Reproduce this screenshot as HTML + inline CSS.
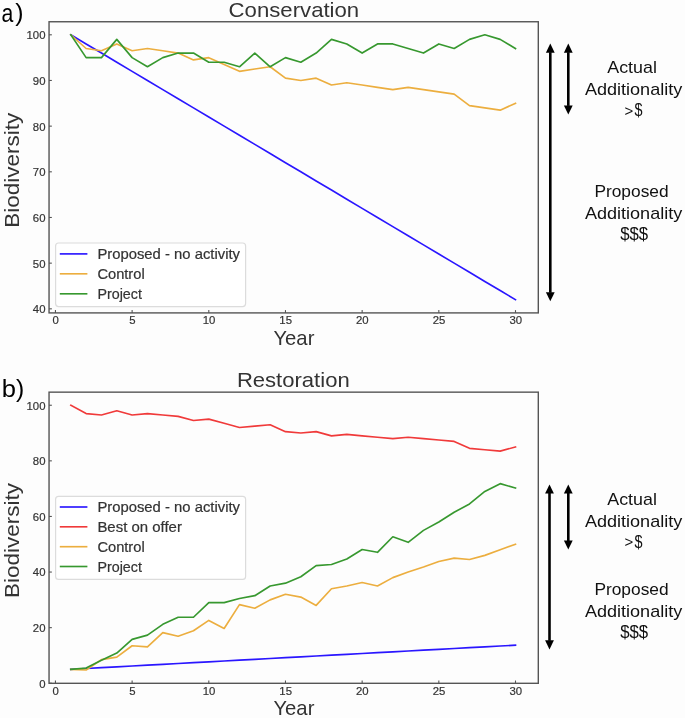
<!DOCTYPE html>
<html><head><meta charset="utf-8"><style>
html,body{margin:0;padding:0;background:#fdfdfd;}
svg{display:block;font-family:"Liberation Sans",sans-serif;will-change:transform;}
</style></head><body>
<svg width="685" height="718" viewBox="0 0 685 718">
<rect width="685" height="718" fill="#fdfdfd"/>
<g>
<polyline points="70.78,34.80 86.12,43.93 101.46,53.07 116.79,62.20 132.12,71.34 147.46,80.47 162.80,89.60 178.13,98.74 193.47,107.87 208.80,117.01 224.13,126.14 239.47,135.27 254.81,144.41 270.14,153.54 285.48,162.68 300.81,171.81 316.14,180.94 331.48,190.08 346.81,199.21 362.15,208.35 377.49,217.48 392.82,226.61 408.16,235.75 423.49,244.88 438.82,254.02 454.16,263.15 469.50,272.28 484.83,281.42 500.17,290.55 515.50,299.69" fill="none" stroke="#2a16ff" stroke-width="1.65" stroke-linejoin="round" stroke-linecap="square"/>
<polyline points="70.78,34.80 86.12,48.50 101.46,50.78 116.79,43.93 132.12,50.78 147.46,48.50 162.80,50.78 178.13,53.07 193.47,59.92 208.80,57.63 224.13,64.49 239.47,71.34 254.81,69.05 270.14,66.77 285.48,78.19 300.81,80.47 316.14,78.19 331.48,85.04 346.81,82.75 362.15,85.04 377.49,87.32 392.82,89.60 408.16,87.32 423.49,89.60 438.82,91.89 454.16,94.17 469.50,105.59 484.83,107.87 500.17,110.16 515.50,103.30" fill="none" stroke="#ecae3f" stroke-width="1.65" stroke-linejoin="round" stroke-linecap="square"/>
<polyline points="70.78,34.80 86.12,57.63 101.46,57.63 116.79,39.37 132.12,57.63 147.46,66.77 162.80,57.63 178.13,53.07 193.47,53.07 208.80,62.20 224.13,62.20 239.47,66.77 254.81,53.07 270.14,66.77 285.48,57.63 300.81,62.20 316.14,53.07 331.48,39.37 346.81,43.93 362.15,53.07 377.49,43.93 392.82,43.93 408.16,48.50 423.49,53.07 438.82,43.93 454.16,48.50 469.50,39.37 484.83,34.80 500.17,39.37 515.50,48.50" fill="none" stroke="#37982f" stroke-width="1.65" stroke-linejoin="round" stroke-linecap="square"/>
</g>
<rect x="49.05" y="21.75" width="489.24999999999994" height="291.15" fill="none" stroke="#555" stroke-width="1.4"/>
<line x1="49.05" y1="308.82" x2="51.849999999999994" y2="308.82" stroke="#555" stroke-width="1.1"/>
<text x="45.5" y="313.22" font-size="11.8" text-anchor="end" fill="#333333" textLength="12.65" lengthAdjust="spacingAndGlyphs" stroke="#333333" stroke-width="0.2">40</text>
<line x1="49.05" y1="263.15" x2="51.849999999999994" y2="263.15" stroke="#555" stroke-width="1.1"/>
<text x="45.5" y="267.55" font-size="11.8" text-anchor="end" fill="#333333" textLength="12.65" lengthAdjust="spacingAndGlyphs" stroke="#333333" stroke-width="0.2">50</text>
<line x1="49.05" y1="217.48" x2="51.849999999999994" y2="217.48" stroke="#555" stroke-width="1.1"/>
<text x="45.5" y="221.88" font-size="11.8" text-anchor="end" fill="#333333" textLength="12.65" lengthAdjust="spacingAndGlyphs" stroke="#333333" stroke-width="0.2">60</text>
<line x1="49.05" y1="171.81" x2="51.849999999999994" y2="171.81" stroke="#555" stroke-width="1.1"/>
<text x="45.5" y="176.21" font-size="11.8" text-anchor="end" fill="#333333" textLength="12.65" lengthAdjust="spacingAndGlyphs" stroke="#333333" stroke-width="0.2">70</text>
<line x1="49.05" y1="126.14" x2="51.849999999999994" y2="126.14" stroke="#555" stroke-width="1.1"/>
<text x="45.5" y="130.54" font-size="11.8" text-anchor="end" fill="#333333" textLength="12.65" lengthAdjust="spacingAndGlyphs" stroke="#333333" stroke-width="0.2">80</text>
<line x1="49.05" y1="80.47" x2="51.849999999999994" y2="80.47" stroke="#555" stroke-width="1.1"/>
<text x="45.5" y="84.87" font-size="11.8" text-anchor="end" fill="#333333" textLength="12.65" lengthAdjust="spacingAndGlyphs" stroke="#333333" stroke-width="0.2">90</text>
<line x1="49.05" y1="34.80" x2="51.849999999999994" y2="34.80" stroke="#555" stroke-width="1.1"/>
<text x="45.5" y="39.20" font-size="11.8" text-anchor="end" fill="#333333" textLength="18.97" lengthAdjust="spacingAndGlyphs" stroke="#333333" stroke-width="0.2">100</text>
<line x1="55.45" y1="312.9" x2="55.45" y2="310.09999999999997" stroke="#555" stroke-width="1.1"/>
<text x="55.65" y="324.30" font-size="11.8" text-anchor="middle" fill="#333333" textLength="6.32" lengthAdjust="spacingAndGlyphs" stroke="#333333" stroke-width="0.2">0</text>
<line x1="132.12" y1="312.9" x2="132.12" y2="310.09999999999997" stroke="#555" stroke-width="1.1"/>
<text x="132.32" y="324.30" font-size="11.8" text-anchor="middle" fill="#333333" textLength="6.32" lengthAdjust="spacingAndGlyphs" stroke="#333333" stroke-width="0.2">5</text>
<line x1="208.80" y1="312.9" x2="208.80" y2="310.09999999999997" stroke="#555" stroke-width="1.1"/>
<text x="209.00" y="324.30" font-size="11.8" text-anchor="middle" fill="#333333" textLength="12.65" lengthAdjust="spacingAndGlyphs" stroke="#333333" stroke-width="0.2">10</text>
<line x1="285.48" y1="312.9" x2="285.48" y2="310.09999999999997" stroke="#555" stroke-width="1.1"/>
<text x="285.68" y="324.30" font-size="11.8" text-anchor="middle" fill="#333333" textLength="12.65" lengthAdjust="spacingAndGlyphs" stroke="#333333" stroke-width="0.2">15</text>
<line x1="362.15" y1="312.9" x2="362.15" y2="310.09999999999997" stroke="#555" stroke-width="1.1"/>
<text x="362.35" y="324.30" font-size="11.8" text-anchor="middle" fill="#333333" textLength="12.65" lengthAdjust="spacingAndGlyphs" stroke="#333333" stroke-width="0.2">20</text>
<line x1="438.82" y1="312.9" x2="438.82" y2="310.09999999999997" stroke="#555" stroke-width="1.1"/>
<text x="439.02" y="324.30" font-size="11.8" text-anchor="middle" fill="#333333" textLength="12.65" lengthAdjust="spacingAndGlyphs" stroke="#333333" stroke-width="0.2">25</text>
<line x1="515.50" y1="312.9" x2="515.50" y2="310.09999999999997" stroke="#555" stroke-width="1.1"/>
<text x="515.70" y="324.30" font-size="11.8" text-anchor="middle" fill="#333333" textLength="12.65" lengthAdjust="spacingAndGlyphs" stroke="#333333" stroke-width="0.2">30</text>
<text x="293.9" y="16.7" font-size="21.0" text-anchor="middle" fill="#333333" textLength="130.6" lengthAdjust="spacingAndGlyphs">Conservation</text>
<text x="293.9" y="344.95" font-size="21" text-anchor="middle" fill="#333333" textLength="41" lengthAdjust="spacingAndGlyphs">Year</text>
<text transform="translate(19.4,170.15) rotate(-90)" x="0" y="0" font-size="21" text-anchor="middle" fill="#333333" textLength="115" lengthAdjust="spacingAndGlyphs">Biodiversity</text>
<text x="1.4" y="22.0" font-size="26.0" text-anchor="start" fill="#000" textLength="11.8" lengthAdjust="spacingAndGlyphs">a</text>
<text x="15.2" y="21.3" font-size="24.8" text-anchor="start" fill="#000">)</text>
<rect x="55.6" y="243.0" width="190.0" height="63.60000000000002" rx="3" fill="#fff" fill-opacity="0.8" stroke="#dcdcdc" stroke-width="1.2"/>
<line x1="59.8" y1="253.9" x2="87.4" y2="253.9" stroke="#2a16ff" stroke-width="1.65"/>
<text x="97.4" y="258.90" font-size="14.2" text-anchor="start" fill="#333333" textLength="142.6" lengthAdjust="spacingAndGlyphs" stroke="#333333" stroke-width="0.2">Proposed - no activity</text>
<line x1="59.8" y1="273.8" x2="87.4" y2="273.8" stroke="#ecae3f" stroke-width="1.65"/>
<text x="97.4" y="278.80" font-size="14.2" text-anchor="start" fill="#333333" textLength="47.3" lengthAdjust="spacingAndGlyphs" stroke="#333333" stroke-width="0.2">Control</text>
<line x1="59.8" y1="293.8" x2="87.4" y2="293.8" stroke="#37982f" stroke-width="1.65"/>
<text x="97.4" y="298.80" font-size="14.2" text-anchor="start" fill="#333333" textLength="44.5" lengthAdjust="spacingAndGlyphs" stroke="#333333" stroke-width="0.2">Project</text>
<line x1="550.3" y1="52.2" x2="550.3" y2="292.7" stroke="#000" stroke-width="2.6"/>
<polygon points="550.3,43.6 545.9,52.7 554.6999999999999,52.7" fill="#000"/>
<polygon points="550.3,301.3 545.9,292.2 554.6999999999999,292.2" fill="#000"/>
<line x1="568.3" y1="52.2" x2="568.3" y2="105.9" stroke="#000" stroke-width="2.6"/>
<polygon points="568.3,43.6 563.9,52.7 572.6999999999999,52.7" fill="#000"/>
<polygon points="568.3,114.5 563.9,105.4 572.6999999999999,105.4" fill="#000"/>
<text x="632.1" y="73.4" font-size="15.9" text-anchor="middle" fill="#111" textLength="49.6" lengthAdjust="spacingAndGlyphs">Actual</text>
<text x="633.6" y="95.2" font-size="15.9" text-anchor="middle" fill="#111" textLength="97.4" lengthAdjust="spacingAndGlyphs">Additionality</text>
<text x="624.6" y="115.85" font-size="15.0" text-anchor="start" fill="#111">&gt;</text>
<text x="634.4" y="116.1" font-size="18.0" text-anchor="start" fill="#111" textLength="8.0" lengthAdjust="spacingAndGlyphs">$</text>
<text x="631.5" y="197.0" font-size="15.9" text-anchor="middle" fill="#111" textLength="74.2" lengthAdjust="spacingAndGlyphs">Proposed</text>
<text x="633.6" y="218.5" font-size="15.9" text-anchor="middle" fill="#111" textLength="97.4" lengthAdjust="spacingAndGlyphs">Additionality</text>
<text x="620.2" y="239.8" font-size="18.3" text-anchor="start" fill="#111" textLength="28.0" lengthAdjust="spacingAndGlyphs">$$$</text>
<g>
<polyline points="70.78,669.35 86.12,668.52 101.46,667.68 116.79,666.85 132.12,666.01 147.46,665.18 162.80,664.35 178.13,663.51 193.47,662.68 208.80,661.84 224.13,661.01 239.47,660.18 254.81,659.34 270.14,658.51 285.48,657.67 300.81,656.84 316.14,656.01 331.48,655.17 346.81,654.34 362.15,653.50 377.49,652.67 392.82,651.84 408.16,651.00 423.49,650.17 438.82,649.33 454.16,648.50 469.50,647.67 484.83,646.83 500.17,646.00 515.50,645.16" fill="none" stroke="#2a16ff" stroke-width="1.65" stroke-linejoin="round" stroke-linecap="square"/>
<polyline points="70.78,405.25 86.12,413.59 101.46,414.98 116.79,410.81 132.12,414.98 147.46,413.59 162.80,414.98 178.13,416.37 193.47,420.54 208.80,419.15 224.13,423.32 239.47,427.49 254.81,426.10 270.14,424.71 285.48,431.66 300.81,433.05 316.14,431.66 331.48,435.83 346.81,434.44 362.15,435.83 377.49,437.22 392.82,438.61 408.16,437.22 423.49,438.61 438.82,440.00 454.16,441.39 469.50,448.34 484.83,449.73 500.17,451.12 515.50,446.95" fill="none" stroke="#f03a3a" stroke-width="1.65" stroke-linejoin="round" stroke-linecap="square"/>
<polyline points="70.78,669.35 86.12,670.04 101.46,659.62 116.79,657.12 132.12,645.72 147.46,646.83 162.80,632.65 178.13,636.27 193.47,630.71 208.80,620.42 224.13,628.48 239.47,604.58 254.81,608.19 270.14,599.85 285.48,594.29 300.81,597.07 316.14,605.41 331.48,588.73 346.81,585.95 362.15,582.48 377.49,585.95 392.82,577.61 408.16,572.05 423.49,567.05 438.82,561.49 454.16,558.15 469.50,559.54 484.83,555.37 500.17,549.81 515.50,544.25" fill="none" stroke="#ecae3f" stroke-width="1.65" stroke-linejoin="round" stroke-linecap="square"/>
<polyline points="70.78,669.35 86.12,668.10 101.46,660.18 116.79,653.09 132.12,639.33 147.46,635.16 162.80,624.31 178.13,617.23 193.47,617.23 208.80,602.63 224.13,602.63 239.47,598.46 254.81,595.68 270.14,585.95 285.48,583.17 300.81,576.78 316.14,565.66 331.48,564.54 346.81,558.98 362.15,549.53 377.49,552.31 392.82,536.74 408.16,542.30 423.49,530.35 438.82,522.01 454.16,512.28 469.50,503.94 484.83,491.43 500.17,483.65 515.50,488.09" fill="none" stroke="#37982f" stroke-width="1.65" stroke-linejoin="round" stroke-linecap="square"/>
</g>
<rect x="49.05" y="392.15" width="489.24999999999994" height="291.15" fill="none" stroke="#555" stroke-width="1.4"/>
<line x1="49.05" y1="683.25" x2="51.849999999999994" y2="683.25" stroke="#555" stroke-width="1.1"/>
<text x="45.5" y="687.65" font-size="11.8" text-anchor="end" fill="#333333" textLength="6.32" lengthAdjust="spacingAndGlyphs" stroke="#333333" stroke-width="0.2">0</text>
<line x1="49.05" y1="627.65" x2="51.849999999999994" y2="627.65" stroke="#555" stroke-width="1.1"/>
<text x="45.5" y="632.05" font-size="11.8" text-anchor="end" fill="#333333" textLength="12.65" lengthAdjust="spacingAndGlyphs" stroke="#333333" stroke-width="0.2">20</text>
<line x1="49.05" y1="572.05" x2="51.849999999999994" y2="572.05" stroke="#555" stroke-width="1.1"/>
<text x="45.5" y="576.45" font-size="11.8" text-anchor="end" fill="#333333" textLength="12.65" lengthAdjust="spacingAndGlyphs" stroke="#333333" stroke-width="0.2">40</text>
<line x1="49.05" y1="516.45" x2="51.849999999999994" y2="516.45" stroke="#555" stroke-width="1.1"/>
<text x="45.5" y="520.85" font-size="11.8" text-anchor="end" fill="#333333" textLength="12.65" lengthAdjust="spacingAndGlyphs" stroke="#333333" stroke-width="0.2">60</text>
<line x1="49.05" y1="460.85" x2="51.849999999999994" y2="460.85" stroke="#555" stroke-width="1.1"/>
<text x="45.5" y="465.25" font-size="11.8" text-anchor="end" fill="#333333" textLength="12.65" lengthAdjust="spacingAndGlyphs" stroke="#333333" stroke-width="0.2">80</text>
<line x1="49.05" y1="405.25" x2="51.849999999999994" y2="405.25" stroke="#555" stroke-width="1.1"/>
<text x="45.5" y="409.65" font-size="11.8" text-anchor="end" fill="#333333" textLength="18.97" lengthAdjust="spacingAndGlyphs" stroke="#333333" stroke-width="0.2">100</text>
<line x1="55.45" y1="683.3" x2="55.45" y2="680.5" stroke="#555" stroke-width="1.1"/>
<text x="55.65" y="694.70" font-size="11.8" text-anchor="middle" fill="#333333" textLength="6.32" lengthAdjust="spacingAndGlyphs" stroke="#333333" stroke-width="0.2">0</text>
<line x1="132.12" y1="683.3" x2="132.12" y2="680.5" stroke="#555" stroke-width="1.1"/>
<text x="132.32" y="694.70" font-size="11.8" text-anchor="middle" fill="#333333" textLength="6.32" lengthAdjust="spacingAndGlyphs" stroke="#333333" stroke-width="0.2">5</text>
<line x1="208.80" y1="683.3" x2="208.80" y2="680.5" stroke="#555" stroke-width="1.1"/>
<text x="209.00" y="694.70" font-size="11.8" text-anchor="middle" fill="#333333" textLength="12.65" lengthAdjust="spacingAndGlyphs" stroke="#333333" stroke-width="0.2">10</text>
<line x1="285.48" y1="683.3" x2="285.48" y2="680.5" stroke="#555" stroke-width="1.1"/>
<text x="285.68" y="694.70" font-size="11.8" text-anchor="middle" fill="#333333" textLength="12.65" lengthAdjust="spacingAndGlyphs" stroke="#333333" stroke-width="0.2">15</text>
<line x1="362.15" y1="683.3" x2="362.15" y2="680.5" stroke="#555" stroke-width="1.1"/>
<text x="362.35" y="694.70" font-size="11.8" text-anchor="middle" fill="#333333" textLength="12.65" lengthAdjust="spacingAndGlyphs" stroke="#333333" stroke-width="0.2">20</text>
<line x1="438.82" y1="683.3" x2="438.82" y2="680.5" stroke="#555" stroke-width="1.1"/>
<text x="439.02" y="694.70" font-size="11.8" text-anchor="middle" fill="#333333" textLength="12.65" lengthAdjust="spacingAndGlyphs" stroke="#333333" stroke-width="0.2">25</text>
<line x1="515.50" y1="683.3" x2="515.50" y2="680.5" stroke="#555" stroke-width="1.1"/>
<text x="515.70" y="694.70" font-size="11.8" text-anchor="middle" fill="#333333" textLength="12.65" lengthAdjust="spacingAndGlyphs" stroke="#333333" stroke-width="0.2">30</text>
<text x="293.3" y="386.9" font-size="21.0" text-anchor="middle" fill="#333333" textLength="112.8" lengthAdjust="spacingAndGlyphs">Restoration</text>
<text x="293.9" y="715.3499999999999" font-size="21" text-anchor="middle" fill="#333333" textLength="41" lengthAdjust="spacingAndGlyphs">Year</text>
<text transform="translate(19.4,540.55) rotate(-90)" x="0" y="0" font-size="21" text-anchor="middle" fill="#333333" textLength="115" lengthAdjust="spacingAndGlyphs">Biodiversity</text>
<text x="1.7" y="397.3" font-size="24.8" text-anchor="start" fill="#000" textLength="14.2" lengthAdjust="spacingAndGlyphs">b</text>
<text x="15.9" y="397.3" font-size="24.8" text-anchor="start" fill="#000">)</text>
<rect x="55.6" y="496.3" width="190.0" height="83.09999999999997" rx="3" fill="#fff" fill-opacity="0.8" stroke="#dcdcdc" stroke-width="1.2"/>
<line x1="59.8" y1="507.0" x2="87.4" y2="507.0" stroke="#2a16ff" stroke-width="1.65"/>
<text x="97.4" y="512.00" font-size="14.2" text-anchor="start" fill="#333333" textLength="142.6" lengthAdjust="spacingAndGlyphs" stroke="#333333" stroke-width="0.2">Proposed - no activity</text>
<line x1="59.8" y1="526.8" x2="87.4" y2="526.8" stroke="#f03a3a" stroke-width="1.65"/>
<text x="97.4" y="531.80" font-size="14.2" text-anchor="start" fill="#333333" textLength="84.5" lengthAdjust="spacingAndGlyphs" stroke="#333333" stroke-width="0.2">Best on offer</text>
<line x1="59.8" y1="546.7" x2="87.4" y2="546.7" stroke="#ecae3f" stroke-width="1.65"/>
<text x="97.4" y="551.70" font-size="14.2" text-anchor="start" fill="#333333" textLength="47.3" lengthAdjust="spacingAndGlyphs" stroke="#333333" stroke-width="0.2">Control</text>
<line x1="59.8" y1="566.5" x2="87.4" y2="566.5" stroke="#37982f" stroke-width="1.65"/>
<text x="97.4" y="571.50" font-size="14.2" text-anchor="start" fill="#333333" textLength="44.5" lengthAdjust="spacingAndGlyphs" stroke="#333333" stroke-width="0.2">Project</text>
<line x1="549.5" y1="493.0" x2="549.5" y2="640.8" stroke="#000" stroke-width="2.6"/>
<polygon points="549.5,484.4 545.1,493.5 553.9,493.5" fill="#000"/>
<polygon points="549.5,649.4 545.1,640.3 553.9,640.3" fill="#000"/>
<line x1="568.3" y1="493.0" x2="568.3" y2="541.0" stroke="#000" stroke-width="2.6"/>
<polygon points="568.3,484.4 563.9,493.5 572.6999999999999,493.5" fill="#000"/>
<polygon points="568.3,549.6 563.9,540.5 572.6999999999999,540.5" fill="#000"/>
<text x="632.1" y="504.85" font-size="15.9" text-anchor="middle" fill="#111" textLength="49.6" lengthAdjust="spacingAndGlyphs">Actual</text>
<text x="633.6" y="526.65" font-size="15.9" text-anchor="middle" fill="#111" textLength="97.4" lengthAdjust="spacingAndGlyphs">Additionality</text>
<text x="624.6" y="547.3" font-size="15.0" text-anchor="start" fill="#111">&gt;</text>
<text x="634.4" y="547.55" font-size="18.0" text-anchor="start" fill="#111" textLength="8.0" lengthAdjust="spacingAndGlyphs">$</text>
<text x="631.5" y="595.0" font-size="15.9" text-anchor="middle" fill="#111" textLength="74.2" lengthAdjust="spacingAndGlyphs">Proposed</text>
<text x="633.6" y="616.5" font-size="15.9" text-anchor="middle" fill="#111" textLength="97.4" lengthAdjust="spacingAndGlyphs">Additionality</text>
<text x="620.2" y="637.8" font-size="18.3" text-anchor="start" fill="#111" textLength="28.0" lengthAdjust="spacingAndGlyphs">$$$</text>
</svg>
</body></html>
